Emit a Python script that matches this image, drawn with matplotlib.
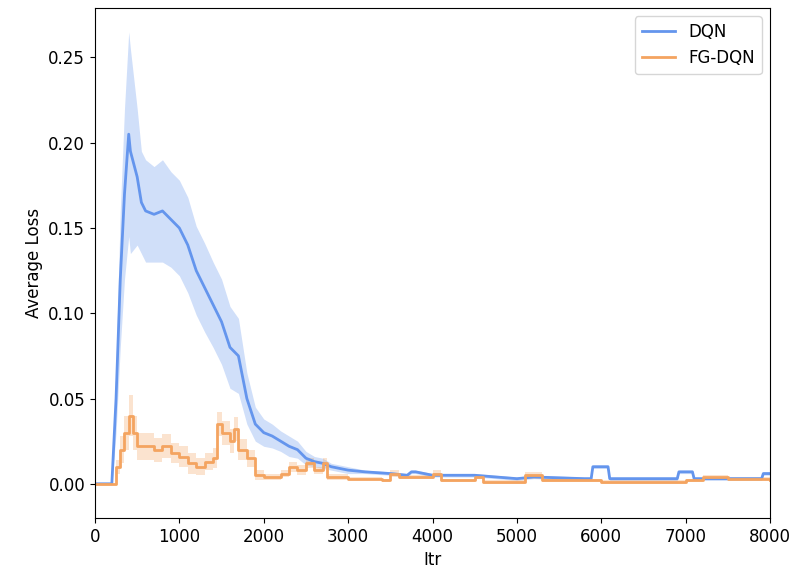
import matplotlib
matplotlib.use("Agg")
import matplotlib.pyplot as plt
import numpy as np

plt.rcParams['font.size'] = 12

dqn_x = [0,200,210,250,300,350,400,420,500,550,600,700,800,900,1000,1100,1200,1300,1400,1500,1600,1700,1800,1900,2000,2100,2200,2300,2400,2500,2600,2700,2800,2900,3000,3200,3500,3700,3750,3800,4000,4500,5000,5200,5800,5880,5900,6080,6100,6900,6920,6950,7080,7100,7900,7920,8000]
dqn_y = [0,0,0.01,0.05,0.12,0.17,0.205,0.195,0.18,0.165,0.16,0.158,0.16,0.155,0.15,0.14,0.125,0.115,0.105,0.095,0.08,0.075,0.05,0.035,0.03,0.028,0.025,0.022,0.02,0.015,0.013,0.012,0.01,0.009,0.008,0.007,0.006,0.005,0.007,0.007,0.005,0.005,0.003,0.004,0.003,0.003,0.01,0.01,0.003,0.003,0.007,0.007,0.007,0.003,0.003,0.006,0.006]
dqn_w = [0,0,0.005,0.02,0.04,0.05,0.06,0.06,0.04,0.03,0.03,0.028,0.03,0.028,0.028,0.028,0.026,0.026,0.025,0.025,0.024,0.022,0.015,0.01,0.008,0.007,0.006,0.006,0.005,0.004,0.003,0.003,0.002,0.002,0.002,0.001,0.001,0.001,0.001,0.001,0.001,0.001,0.001,0.001,0.001,0.001,0.001,0.001,0.001,0.001,0.001,0.001,0.001,0.001,0.001,0.001,0.001]

fg_x = [0,200,250,300,350,400,450,500,600,700,800,900,1000,1100,1200,1300,1400,1450,1500,1600,1650,1700,1800,1900,2000,2200,2300,2400,2500,2600,2700,2750,3000,3400,3500,3600,4000,4100,4500,4600,5000,5100,5300,6000,7000,7200,7500,8000]
fg_y = [0,0,0.01,0.02,0.03,0.04,0.03,0.022,0.022,0.02,0.022,0.018,0.016,0.012,0.01,0.013,0.015,0.035,0.03,0.025,0.032,0.02,0.015,0.005,0.004,0.006,0.01,0.008,0.012,0.008,0.012,0.004,0.003,0.002,0.006,0.004,0.006,0.002,0.004,0.001,0.001,0.005,0.002,0.001,0.002,0.004,0.003,0.002]
fg_w = [0,0,0.004,0.008,0.01,0.012,0.01,0.008,0.008,0.007,0.007,0.006,0.006,0.006,0.005,0.005,0.006,0.007,0.007,0.007,0.007,0.006,0.005,0.003,0.002,0.002,0.003,0.003,0.003,0.002,0.003,0.002,0.001,0.001,0.002,0.001,0.002,0.001,0.001,0.001,0.001,0.002,0.001,0.001,0.001,0.001,0.001,0.001]

blue = "#6495ED"; orange = "#F4A460"
fig, ax = plt.subplots(figsize=(7.98, 5.71), dpi=100)
fig.subplots_adjust(left=0.119, right=0.965, top=0.986, bottom=0.093)
for x, y, w, c, lab, ds in [(dqn_x, dqn_y, dqn_w, blue, "DQN", "default"), (fg_x, fg_y, fg_w, orange, "FG-DQN", "steps-post")]:
    x = np.array(x); y = np.array(y); w = np.array(w)
    ax.fill_between(x, y - w, y + w, color=c, alpha=0.3, lw=0, step="post" if ds != "default" else None)
    ax.plot(x, y, color=c, lw=2, drawstyle=ds, label=lab)
ax.set_xlim(0, 8000)
ax.set_ylim(-0.02, 0.279)
ax.set_yticks([0, 0.05, 0.10, 0.15, 0.20, 0.25])
ax.set_xlabel("Itr")
ax.set_ylabel("Average Loss")
ax.legend(loc="upper right")
fig.savefig("out.png")
